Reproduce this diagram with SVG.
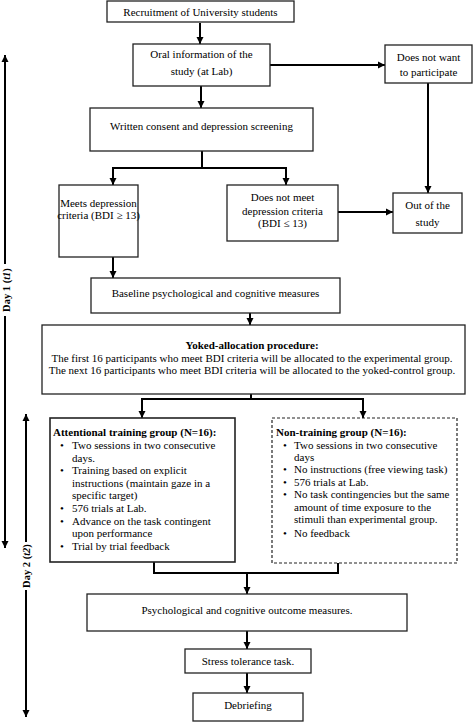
<svg xmlns="http://www.w3.org/2000/svg" width="473" height="722" viewBox="0 0 473 722">
<style>
  .box{fill:#fff;stroke:#222;stroke-width:1.3}
  .dash{fill:#fff;stroke:#222;stroke-width:1.2;stroke-dasharray:3,2}
  .thick{fill:#fff;stroke:#222;stroke-width:1.6}
  .c{fill:none;stroke:#000;stroke-width:2}
  text{font-family:"Liberation Serif","Times New Roman",serif;font-size:11px;fill:#000}
  .m{text-anchor:middle}
  .b{font-weight:bold}
  .day{font-size:10.5px}
</style>
<defs>
  <marker id="ah" markerUnits="userSpaceOnUse" markerWidth="8" markerHeight="8" refX="7" refY="4" orient="auto">
    <path d="M0,0.5 L7,4 L0,7.5 Z" fill="#000"/>
  </marker>
</defs>
<rect width="473" height="722" fill="#fff"/>

<g id="connectors">
  <line class="c" x1="200" y1="23" x2="200" y2="44" marker-end="url(#ah)"/>
  <line class="c" x1="270" y1="65" x2="385" y2="65" marker-end="url(#ah)"/>
  <line class="c" x1="201" y1="86" x2="201" y2="108" marker-end="url(#ah)"/>
  <polyline class="c" points="202,151 202,168"/>
  <line class="c" x1="112" y1="168" x2="287" y2="168"/>
  <line class="c" x1="113" y1="168" x2="113" y2="185" marker-end="url(#ah)"/>
  <line class="c" x1="286" y1="168" x2="286" y2="185" marker-end="url(#ah)"/>
  <line class="c" x1="428" y1="83" x2="428" y2="193" marker-end="url(#ah)"/>
  <line class="c" x1="338" y1="212" x2="393" y2="212" marker-end="url(#ah)"/>
  <line class="c" x1="113" y1="257" x2="113" y2="278" marker-end="url(#ah)"/>
  <line class="c" x1="250" y1="313" x2="250" y2="325" marker-end="url(#ah)"/>
  <line class="c" x1="251" y1="394" x2="251" y2="399"/>
  <line class="c" x1="141" y1="399" x2="364" y2="399"/>
  <line class="c" x1="142" y1="399" x2="142" y2="418" marker-end="url(#ah)"/>
  <line class="c" x1="363" y1="399" x2="363" y2="418" marker-end="url(#ah)"/>
  <polyline class="c" points="154,562 154,573 338,573 338,563"/>
  <line class="c" x1="247" y1="573" x2="247" y2="594" marker-end="url(#ah)"/>
  <line class="c" x1="247" y1="631" x2="247" y2="649" marker-end="url(#ah)"/>
  <line class="c" x1="247" y1="673" x2="247" y2="693" marker-end="url(#ah)"/>
</g>

<g id="day1">
  <line class="c" x1="5" y1="264" x2="5" y2="55" marker-end="url(#ah)"/>
  <line class="c" x1="5" y1="316" x2="5" y2="548" marker-end="url(#ah)"/>
  <text class="m b day" transform="translate(10,290) rotate(-90)">Day 1 (<tspan font-style="italic">t1</tspan>)</text>
</g>
<g id="day2">
  <line class="c" x1="26" y1="542" x2="26" y2="414" marker-end="url(#ah)"/>
  <line class="c" x1="26" y1="590" x2="26" y2="717" marker-end="url(#ah)"/>
  <text class="m b day" transform="translate(30,566) rotate(-90)">Day 2 (<tspan font-style="italic">t2</tspan>)</text>
</g>

<g id="recruitment">
  <rect class="box" x="107" y="1" width="187" height="21"/>
  <text class="m" x="200.5" y="15.5">Recruitment of University students</text>
</g>
<g id="oral">
  <rect class="box" x="133" y="44" width="137" height="42"/>
  <text class="m" x="201.5" y="58">Oral information of the</text>
  <text class="m" x="201.5" y="75">study (at Lab)</text>
</g>
<g id="notwant">
  <rect class="box" x="385" y="45" width="87" height="38"/>
  <text class="m" x="428.5" y="61">Does not want</text>
  <text class="m" x="428.5" y="76">to participate</text>
</g>
<g id="written">
  <rect class="box" x="90" y="108" width="223" height="43"/>
  <text class="m" x="201.5" y="130">Written consent and depression screening</text>
</g>
<g id="meets">
  <rect class="box" x="59" y="185" width="79" height="72"/>
  <text class="m" x="98.5" y="207">Meets depression</text>
  <text class="m" x="98.5" y="219">criteria (BDI ≥ 13)</text>
</g>
<g id="notmeet">
  <rect class="box" x="227" y="185" width="111" height="56"/>
  <text class="m" x="282.5" y="201">Does not meet</text>
  <text class="m" x="282.5" y="215">depression criteria</text>
  <text class="m" x="282.5" y="227">(BDI ≤ 13)</text>
</g>
<g id="out">
  <rect class="box" x="393" y="193" width="69" height="40"/>
  <text class="m" x="427.5" y="209">Out of the</text>
  <text class="m" x="427.5" y="226">study</text>
</g>
<g id="baseline">
  <rect class="box" x="91" y="278" width="249" height="35"/>
  <text class="m" x="215.5" y="297">Baseline psychological and cognitive measures</text>
</g>
<g id="yoked">
  <rect class="box" x="42" y="325" width="423" height="69"/>
  <text class="m b" x="252" y="349">Yoked-allocation procedure:</text>
  <text class="m" x="252" y="362">The first 16 participants who meet BDI criteria will be allocated to the experimental group.</text>
  <text class="m" x="252" y="374">The next 16 participants who meet BDI criteria will be allocated to the yoked-control group.</text>
</g>
<g id="attentional">
  <rect class="thick" x="50" y="418" width="185" height="144"/>
  <text class="b" x="53" y="436">Attentional training group (N=16):</text>
  <text x="60" y="449">•</text><text x="72" y="449">Two sessions in two consecutive</text>
  <text x="72" y="461.5">days.</text>
  <text x="60" y="474">•</text><text x="72" y="474">Training based on explicit</text>
  <text x="72" y="486.5">instructions (maintain gaze in a</text>
  <text x="72" y="499">specific target)</text>
  <text x="60" y="511.5">•</text><text x="72" y="511.5">576 trials at Lab.</text>
  <text x="60" y="524.5">•</text><text x="72" y="524.5">Advance on the task contingent</text>
  <text x="72" y="537">upon performance</text>
  <text x="60" y="550">•</text><text x="72" y="550">Trial by trial feedback</text>
</g>
<g id="nontraining">
  <rect class="dash" x="272" y="418" width="185" height="145"/>
  <text class="b" x="276" y="436">Non-training group (N=16):</text>
  <text x="283" y="449">•</text><text x="294" y="449">Two sessions in two consecutive</text>
  <text x="294" y="461">days</text>
  <text x="283" y="473">•</text><text x="294" y="473">No instructions (free viewing task)</text>
  <text x="283" y="486">•</text><text x="294" y="486">576 trials at Lab.</text>
  <text x="283" y="498">•</text><text x="294" y="498">No task contingencies but the same</text>
  <text x="294" y="511">amount of time exposure to the</text>
  <text x="294" y="523">stimuli than experimental group.</text>
  <text x="283" y="537">•</text><text x="294" y="537">No feedback</text>
</g>
<g id="outcome">
  <rect class="box" x="87" y="594" width="320" height="37"/>
  <text class="m" x="247" y="614">Psychological and cognitive outcome measures.</text>
</g>
<g id="stress">
  <rect class="box" x="185" y="649" width="126" height="24"/>
  <text class="m" x="248" y="665">Stress tolerance task.</text>
</g>
<g id="debriefing">
  <rect class="box" x="193" y="693" width="110" height="28"/>
  <text class="m" x="248" y="709">Debriefing</text>
</g>
</svg>
